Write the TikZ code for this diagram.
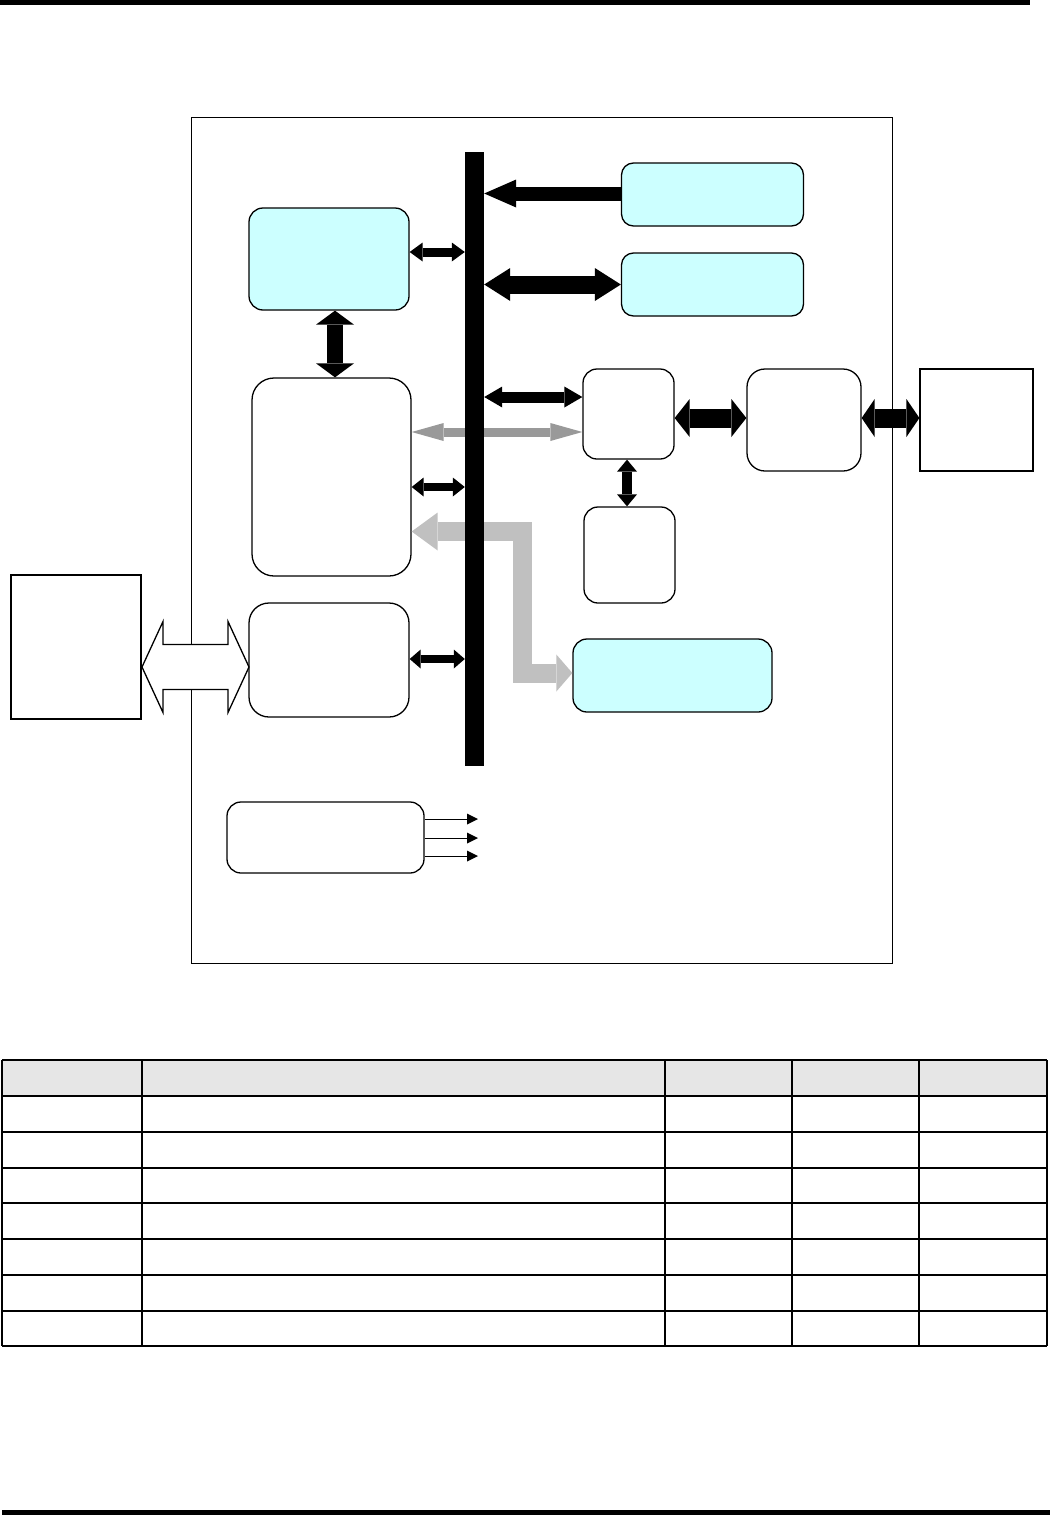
\documentclass[tikz,border=0pt]{standalone}
\usetikzlibrary{arrows.meta,calc}
\definecolor{cyanbox}{HTML}{CCFFFF}
\definecolor{grayone}{HTML}{999999}
\definecolor{graytwo}{HTML}{C0C0C0}
\definecolor{headfill}{HTML}{E6E6E6}
\begin{document}
\begin{tikzpicture}[x=1pt,y=-1pt,
  rbox/.style={draw, line width=1.3pt, rounded corners=14pt, inner sep=0pt, fill=white},
  cbox/.style={rbox, fill=cyanbox},
  sbox/.style={draw, inner sep=0pt, fill=white},
  dbl/.style n args={3}{line width=#1,
    {Triangle[length=#2,width=#3,line width=0pt]}-{Triangle[length=#2,width=#3,line width=0pt]}},
  sgl/.style n args={3}{line width=#1, -{Triangle[length=#2,width=#3,line width=0pt]}},
  tline/.style={line width=1.5pt}
]
\useasboundingbox (0,0) rectangle (1050,1515);
% page bars
\fill (0,0) rectangle (1030,5);
\fill (2,1510) rectangle (1050,1515);
% frame
\node[draw, line width=1pt, inner sep=0pt, minimum width=701pt, minimum height=846pt] (frame) at (541.5,540) {};
% boxes
\node[cbox, minimum width=160pt, minimum height=102pt] (c1) at (329,259) {};
\node[cbox, minimum width=182pt, minimum height=63pt, rounded corners=12pt] (c2) at (712.5,194.5) {};
\node[cbox, minimum width=182pt, minimum height=63pt, rounded corners=12pt] (c3) at (712.5,284.5) {};
\node[cbox, minimum width=199pt, minimum height=73pt] (c4) at (672.5,675.5) {};
\node[rbox, minimum width=159pt, minimum height=198pt, rounded corners=22pt] (w1) at (331.5,477) {};
\node[rbox, minimum width=160pt, minimum height=114pt, rounded corners=20pt] (w2) at (329,660) {};
\node[rbox, minimum width=91pt, minimum height=90pt] (w3) at (628.5,414) {};
\node[rbox, minimum width=114pt, minimum height=102pt, rounded corners=18pt] (w4) at (804,420) {};
\node[rbox, minimum width=91pt, minimum height=96pt] (w5) at (629.5,555) {};
\node[rbox, minimum width=197pt, minimum height=71pt] (w6) at (325.5,837.5) {};
\node[sbox, line width=2pt, minimum width=130pt, minimum height=144pt] (r1) at (76,647) {};
\node[sbox, line width=1.2pt, minimum width=113pt, minimum height=102pt] (r2) at (976.5,420) {};
% gray arrows (behind bus)
\draw[grayone, dbl={9pt}{32pt}{18pt}] ([yshift=45pt]w1.east) -- ([yshift=45pt]w1.east -| w3.west);
\coordinate (lc1) at (522,531.5);
\coordinate (lc2) at (522,673);
\draw[graytwo, line width=19pt, line join=miter,
  {Triangle[length=26pt,width=38pt,line width=0pt]}-{Triangle[length=16pt,width=37pt,line width=0pt]}]
  (w1.east |- lc1) -- (lc1) -- (lc2) -- (lc2 -| c4.west);
% bus
\node[fill=black, inner sep=0pt, minimum width=19pt, minimum height=614pt] (bus) at (474.5,459) {};
% black arrows
\draw[sgl={14pt}{32pt}{28pt}] ([yshift=1pt]c2.west) -- ([yshift=1pt]c2.west -| bus.east);
\draw[dbl={18pt}{26pt}{33pt}] (c3.west -| bus.east) -- (c3.west);
\draw[dbl={9pt}{13pt}{19pt}] ([yshift=7pt]c1.east) -- ([yshift=7pt]c1.east -| bus.west);
\draw[dbl={16pt}{14pt}{38pt}] ([xshift=6pt]c1.south) -- ([xshift=6pt]c1.south |- w1.north);
\draw[dbl={11pt}{18pt}{21pt}] ([yshift=17pt]w3.west -| bus.east) -- ([yshift=17pt]w3.west);
\draw[dbl={8pt}{12pt}{19pt}] ([yshift=-10pt]w1.east) -- ([yshift=-10pt]w1.east -| bus.west);
\draw[dbl={10pt}{12pt}{20pt}] ([xshift=-1.5pt]w3.south) -- ([xshift=-1.5pt]w3.south |- w5.north);
\draw[dbl={19pt}{15pt}{38pt}] ([yshift=2pt]w4.west -| w3.east) -- ([yshift=2pt]w4.west);
\draw[dbl={19pt}{13pt}{38pt}] ([yshift=2pt]w4.east) -- ([yshift=2pt]w4.east -| r2.west);
\draw[dbl={8pt}{11pt}{19pt}] ([yshift=1pt]w2.east) -- ([yshift=1pt]w2.east -| bus.west);
% hollow double arrow
\draw[line width=1.3pt, fill=white, line join=miter]
  ([yshift=-20pt]r1.east) -- ++(21,-45.5) -- ++(0,23) -- ++(65,0) -- ++(0,-23)
  -- ++(21,45.5) -- ++(-21,45.5) -- ++(0,-23) -- ++(-65,0) -- ++(0,23) -- cycle;
% three outputs
\coordinate (o1) at (478,819);
\coordinate (o2) at (478,838);
\coordinate (o3) at (478,856);
\draw[sgl={1pt}{11pt}{11pt}] (w6.east |- o1) -- (o1);
\draw[sgl={1pt}{11pt}{11pt}] (w6.east |- o2) -- (o2);
\draw[sgl={1pt}{11pt}{11pt}] (w6.east |- o3) -- (o3);
% table
\fill[headfill] (2,1060) rectangle (1047,1096);
\foreach \yy in {1060,1096,1132,1168,1203,1239,1275,1311,1346}
  \draw[tline] (2,\yy) -- (1047,\yy);
\foreach \xx in {2,142,665,792,919,1047}
  \draw[tline] (\xx,1060) -- (\xx,1346);
\end{tikzpicture}
\end{document}
